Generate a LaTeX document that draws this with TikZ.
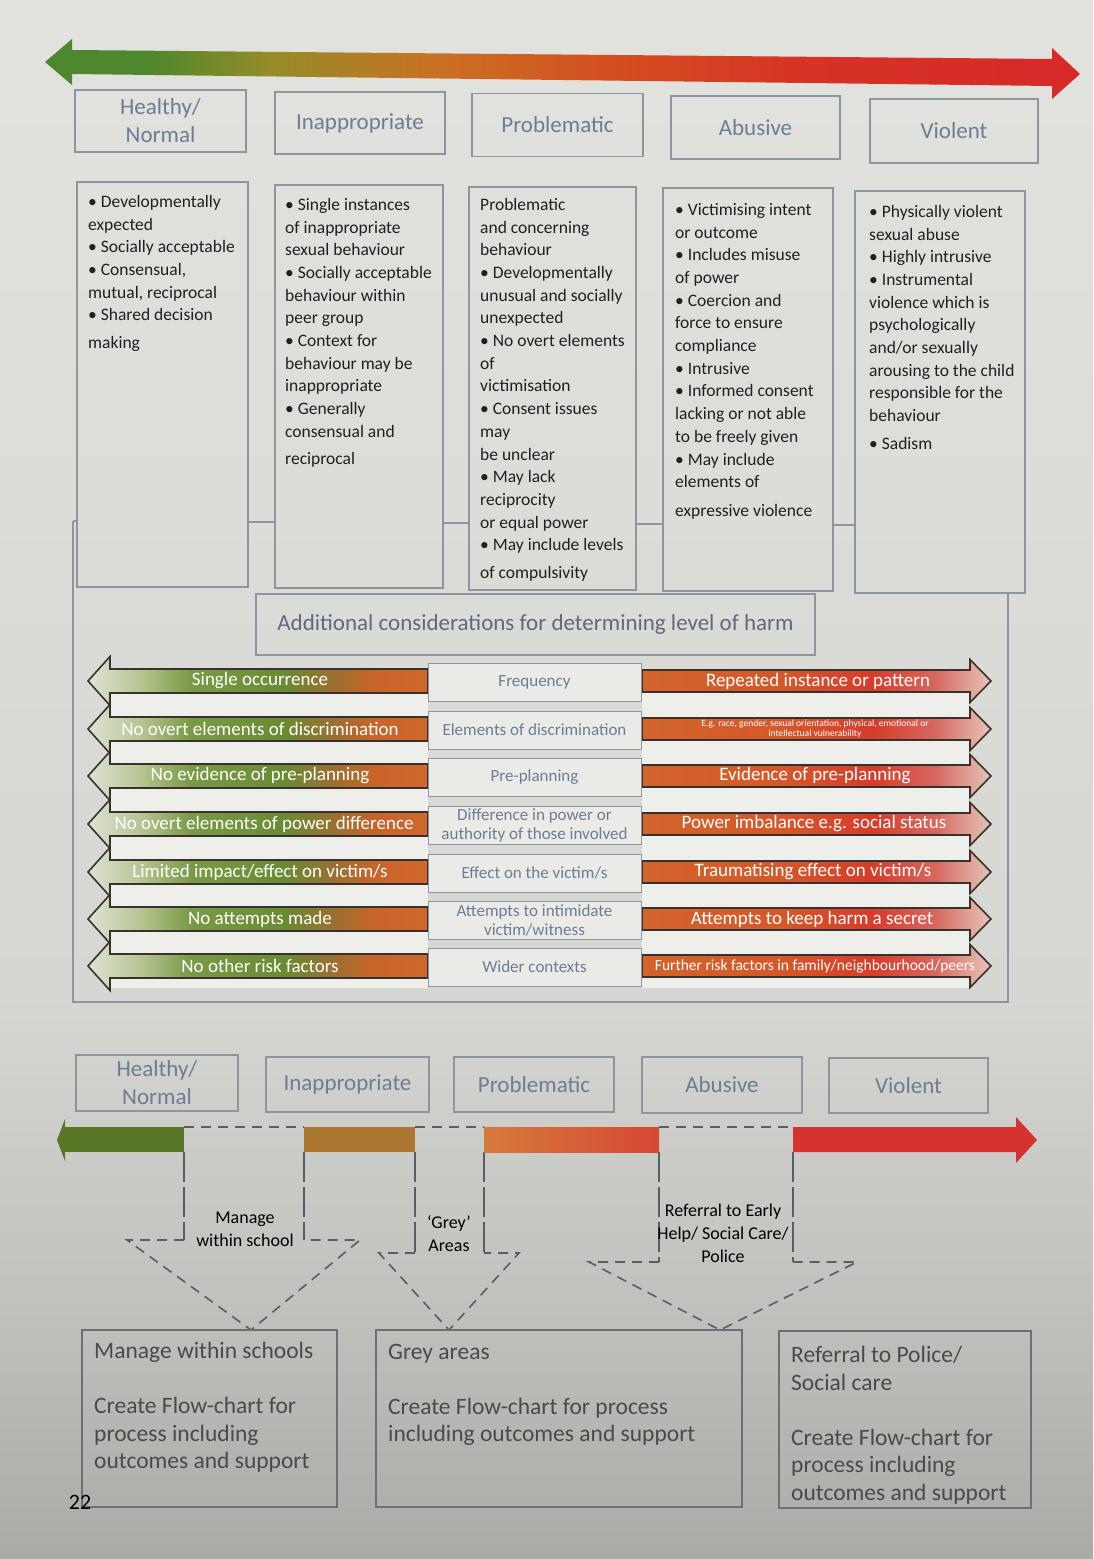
\documentclass[tikz,border=0pt]{standalone}
\usepackage{fontspec}
\setmainfont{Carlito}
\definecolor{bgtop}{RGB}{226,226,222}
\definecolor{bgup}{RGB}{214,214,210}
\definecolor{bgmid}{RGB}{192,192,188}
\definecolor{bgbot}{RGB}{170,170,166}
\definecolor{boxline}{RGB}{140,150,162}
\definecolor{hdrtext}{RGB}{108,126,148}
\definecolor{bodytext}{RGB}{32,32,32}
\definecolor{arrline}{RGB}{55,50,45}
\definecolor{bandcol}{RGB}{238,238,234}
\definecolor{midfill}{RGB}{234,234,231}
\definecolor{dashcol}{RGB}{85,95,105}
\definecolor{lowline}{RGB}{105,112,120}
\definecolor{lowtext}{RGB}{70,75,82}
\definecolor{gseg}{RGB}{88,120,40}
\definecolor{oseg}{RGB}{170,118,48}
\definecolor{rseg}{RGB}{214,50,48}
\definecolor{t1}{RGB}{78,135,45}
\definecolor{t2}{RGB}{150,140,40}
\definecolor{t3}{RGB}{202,112,36}
\definecolor{t4}{RGB}{212,76,32}
\definecolor{t5}{RGB}{214,50,38}
\definecolor{t6}{RGB}{214,42,40}
\definecolor{la1}{RGB}{223,227,212}
\definecolor{la2}{RGB}{180,196,144}
\definecolor{la3}{RGB}{122,154,69}
\definecolor{la4}{RGB}{106,138,50}
\definecolor{la5}{RGB}{154,112,48}
\definecolor{la6}{RGB}{200,100,42}
\definecolor{la7}{RGB}{210,102,44}
\definecolor{ra1}{RGB}{210,100,44}
\definecolor{ra2}{RGB}{212,88,42}
\definecolor{ra3}{RGB}{214,60,42}
\definecolor{ra4}{RGB}{214,104,94}
\definecolor{ra5}{RGB}{230,196,188}
\definecolor{os1}{RGB}{214,122,60}
\definecolor{os2}{RGB}{214,72,52}
\pgfdeclareverticalshading{bgshade}{100bp}{color(0bp)=(bgbot); color(25bp)=(bgbot); color(33bp)=(bgmid); color(43bp)=(bgup); color(75bp)=(bgtop); color(100bp)=(bgtop)}
\pgfdeclarehorizontalshading{toparr}{100bp}{color(0bp)=(t1); color(25bp)=(t1); color(30bp)=(t1); color(36bp)=(t2); color(44bp)=(t3); color(53bp)=(t4); color(62bp)=(t5); color(75bp)=(t6); color(100bp)=(t6)}
\pgfdeclarehorizontalshading{leftarr}{100bp}{color(0bp)=(la1); color(25bp)=(la1); color(33bp)=(la2); color(40bp)=(la3); color(54bp)=(la4); color(61bp)=(la5); color(67bp)=(la6); color(75bp)=(la7); color(100bp)=(la7)}
\pgfdeclarehorizontalshading{rightarr}{100bp}{color(0bp)=(ra1); color(25bp)=(ra1); color(45bp)=(ra2); color(58bp)=(ra3); color(67bp)=(ra4); color(75bp)=(ra5); color(100bp)=(ra5)}
\pgfdeclarehorizontalshading{orseg}{100bp}{color(0bp)=(os1); color(25bp)=(os1); color(75bp)=(os2); color(100bp)=(os2)}
\begin{document}
\begin{tikzpicture}[x=1pt,y=-1pt,
  hbox/.style={draw=boxline, line width=1.3pt, text=hdrtext, font=\fontsize{23}{28}\selectfont, align=center, inner sep=0pt},
  bodytxt/.style={anchor=north west, inner sep=0pt, align=left, text=bodytext, font=\fontsize{17.5}{22.7}\selectfont},
  arrtxt/.style={text=white, inner sep=0pt, font=\fontsize{19}{22}\selectfont},
  midbox/.style={draw=boxline, line width=1pt, fill=midfill, text=hdrtext, align=center, inner sep=0pt, minimum width=213pt, minimum height=38pt, font=\fontsize{17}{19}\selectfont},
  panelln/.style={draw=boxline, line width=1.2pt},
  dashcall/.style={draw=dashcol, line width=1.6pt, dash pattern=on 10pt off 7pt},
  dashvert/.style={draw=dashcol, line width=1.1pt, dash pattern=on 30pt off 5pt},
  calltxt/.style={text=black, align=center, inner sep=0pt, font=\fontsize{18}{23}\selectfont},
  lowbox/.style={draw=lowline, line width=1.3pt},
  lowtxt/.style={anchor=north west, inner sep=0pt, align=left, text=lowtext, font=\fontsize{23.5}{27.5}\selectfont},
  arrshape/.style={draw=arrline, line width=1.6pt, line join=miter}
]
\useasboundingbox (0,0) rectangle (1093,1559);
\shade[shading=bgshade] (0,0) rectangle (1093,1559);

% top gradient arrow
\shade[shading=toparr] (45,62) -- (72,39) -- (72,50) -- (1052,59) -- (1052,48) -- (1080,74) -- (1052,99) -- (1052,86) -- (72,74) -- (72,85) -- cycle;

% top header boxes
\node[hbox, minimum width=171pt, minimum height=62pt] (h1) at (160.5,121) {Healthy/\\Normal};
\node[hbox, minimum width=170pt, minimum height=62pt] (h2) at (360,123) {Inappropriate};
\node[hbox, minimum width=171pt, minimum height=63pt] (h3) at (557.5,125) {Problematic};
\node[hbox, minimum width=169pt, minimum height=63pt] (h4) at (755.5,127.5) {Abusive};
\node[hbox, minimum width=168pt, minimum height=64pt] (h5) at (954,131) {Violent};

% panel lines
\draw[panelln] (73,521) -- (77,521);
\draw[panelln] (248,522) -- (275,522);
\draw[panelln] (443,523) -- (469,523);
\draw[panelln] (636,524) -- (663,524);
\draw[panelln] (833,525) -- (855,525);
\draw[panelln] (73,521) -- (73,1002) -- (1008,1002) -- (1008,593);

% content boxes
\draw[panelln] (77,182) rectangle (248,587);
\draw[panelln] (275,185) rectangle (443,588);
\draw[panelln] (469,187) rectangle (636,590);
\draw[panelln] (663,188) rectangle (833,591);
\draw[panelln] (855,191) rectangle (1025,593);

\node[bodytxt] (b1) at (88,195) {• Developmentally\\expected\\• Socially acceptable\\• Consensual,\\mutual, reciprocal\\• Shared decision\\[5pt]making};
\node[bodytxt] (b2) at (285,198) {• Single instances\\of inappropriate\\sexual behaviour\\• Socially acceptable\\behaviour within\\peer group\\• Context for\\behaviour may be\\inappropriate\\• Generally\\consensual and\\[4pt]reciprocal};
\node[bodytxt] (b3) at (480,198) {Problematic\\and concerning\\behaviour\\• Developmentally\\unusual and socially\\unexpected\\• No overt elements\\of\\victimisation\\• Consent issues\\may\\be unclear\\• May lack\\reciprocity\\or equal power\\• May include levels\\[5pt]of compulsivity};
\node[bodytxt] (b4) at (675,203) {• Victimising intent\\or outcome\\• Includes misuse\\of power\\• Coercion and\\force to ensure\\compliance\\• Intrusive\\• Informed consent\\lacking or not able\\to be freely given\\• May include\\elements of\\[6pt]expressive violence};
\node[bodytxt] (b5) at (869,205) {• Physically violent\\sexual abuse\\• Highly intrusive\\• Instrumental\\violence which is\\psychologically\\and/or sexually\\arousing to the child\\responsible for the\\behaviour\\[5pt]• Sadism};

% additional considerations
\node[hbox, minimum width=559pt, minimum height=61pt, line width=1.1pt, text=hdrtext!85!black] (add) at (535.5,624.5) {Additional considerations for determining level of harm};

% bands
\foreach \c in {681,729,776,824,872,919}{
  \fill[bandcol] (110,\c+12) rectangle (428,\c+36);
  \fill[bandcol] (642,\c+11) rectangle (970,\c+36);
}
\fill[bandcol] (110,978) rectangle (428,988);
\fill[bandcol] (642,977) rectangle (970,988);

% left and right arrows
\foreach \c in {681,729,776,824,872,919,966}{
  \shadedraw[shading=leftarr, arrshape] (428,\c-12) -- (110,\c-12) -- (110,\c-24.5) -- (88,\c) -- (110,\c+24.5) -- (110,\c+12) -- (428,\c+12) -- cycle;
  \shadedraw[shading=rightarr, arrshape] (642,\c-11) -- (970,\c-11) -- (970,\c-21.5) -- (991,\c) -- (970,\c+21.5) -- (970,\c+11) -- (642,\c+11) -- cycle;
}

% left arrow texts
\node[arrtxt] (l1) at (260,681) {Single occurrence};
\node[arrtxt] (l2) at (260,729) {No overt elements of discrimination};
\node[arrtxt] (l3) at (260,776) {No evidence of pre-planning};
\node[arrtxt] (l4) at (264,824) {No overt elements of power difference};
\node[arrtxt] (l5) at (260,872) {Limited impact/effect on victim/s};
\node[arrtxt] (l6) at (260,919) {No attempts made};
\node[arrtxt] (l7) at (260,966) {No other risk factors};

% right arrow texts
\node[arrtxt] (r1) at (818,681) {Repeated instance or pattern};
\node[arrtxt, align=center, font=\fontsize{9.5}{9.5}\selectfont] (r2) at (815,729) {E.g. race, gender, sexual orientation, physical, emotional or\\intellectual vulnerability};
\node[arrtxt] (r3) at (815,776) {Evidence of pre-planning};
\node[arrtxt] (r4) at (814,824) {Power imbalance e.g. social status};
\node[arrtxt] (r5) at (813,872) {Traumatising effect on victim/s};
\node[arrtxt] (r6) at (812,919) {Attempts to keep harm a secret};
\node[arrtxt, font=\fontsize{15.5}{18}\selectfont] (r7) at (815,966) {Further risk factors in family/neighbourhood/peers};

% middle label boxes
\node[midbox] (m1) at (534.5,682) {Frequency};
\node[midbox] (m2) at (534.5,730) {Elements of discrimination};
\node[midbox] (m3) at (534.5,777) {Pre-planning};
\node[midbox] (m4) at (534.5,825) {Difference in power or\\authority of those involved};
\node[midbox] (m5) at (534.5,873) {Effect on the victim/s};
\node[midbox] (m6) at (534.5,920) {Attempts to intimidate\\victim/witness};
\node[midbox] (m7) at (534.5,967) {Wider contexts};

% bottom header boxes
\node[hbox, minimum width=162pt, minimum height=56pt] (g1) at (157,1083) {Healthy/\\Normal};
\node[hbox, minimum width=163pt, minimum height=55pt] (g2) at (347.5,1084.5) {Inappropriate};
\node[hbox, minimum width=160pt, minimum height=55pt] (g3) at (534,1084.5) {Problematic};
\node[hbox, minimum width=160pt, minimum height=56pt] (g4) at (722,1085) {Abusive};
\node[hbox, minimum width=159pt, minimum height=55pt] (g5) at (908.5,1085.5) {Violent};

% callouts
\draw[dashcall] (184,1127) -- (304,1127);
\draw[dashcall] (415,1127) -- (484,1127);
\draw[dashcall] (659,1127) -- (793,1127);
\draw[dashvert] (184,1152) -- (184,1240);
\draw[dashvert] (304,1152) -- (304,1240);
\draw[dashcall] (184,1240) -- (127,1240) -- (251,1330) -- (360,1240) -- (304,1240);
\draw[dashvert] (415,1152) -- (415,1253);
\draw[dashvert] (484,1152) -- (484,1253);
\draw[dashcall] (415,1253) -- (379,1253) -- (449,1330) -- (519,1253) -- (484,1253);
\draw[dashvert] (659,1152) -- (659,1262);
\draw[dashvert] (793,1152) -- (793,1262);
\draw[dashcall] (659,1262) -- (589,1262) -- (720,1330) -- (857,1262) -- (793,1262);

% bottom segmented bar
\fill[gseg] (64,1127) rectangle (184,1152);
\fill[gseg] (65,1119) -- (57,1140) -- (65,1161) -- cycle;
\fill[oseg] (304,1127) rectangle (415,1152);
\shade[shading=orseg] (484,1127) rectangle (659,1152);
\fill[rseg] (793,1127) -- (1016,1127) -- (1016,1117) -- (1037,1140) -- (1016,1163) -- (1016,1152) -- (793,1152) -- cycle;

% callout labels
\node[calltxt] (c1) at (245,1229) {Manage\\within school};
\node[calltxt] (c2) at (449,1234) {‘Grey’\\Areas};
\node[calltxt] (c3) at (723,1233) {Referral to Early\\Help/ Social Care/\\Police};

% bottom boxes
\draw[lowbox] (82,1330) rectangle (337,1507);
\draw[lowbox] (376,1330) rectangle (742,1507);
\draw[lowbox] (779,1331) rectangle (1031,1508);
\node[lowtxt] (o1) at (94,1342) {Manage within schools\\\mbox{}\\Create Flow-chart for\\process including\\outcomes and support};
\node[lowtxt] (o2) at (388,1344) {Grey areas\\\mbox{}\\Create Flow-chart for process\\including outcomes and support};
\node[lowtxt] (o3) at (791,1346) {Referral to Police/\\Social care\\\mbox{}\\Create Flow-chart for\\process including\\outcomes and support};

\node[inner sep=0pt, text=black, font=\fontsize{22}{24}\selectfont] (pg) at (80,1502) {22};
\end{tikzpicture}
\end{document}
